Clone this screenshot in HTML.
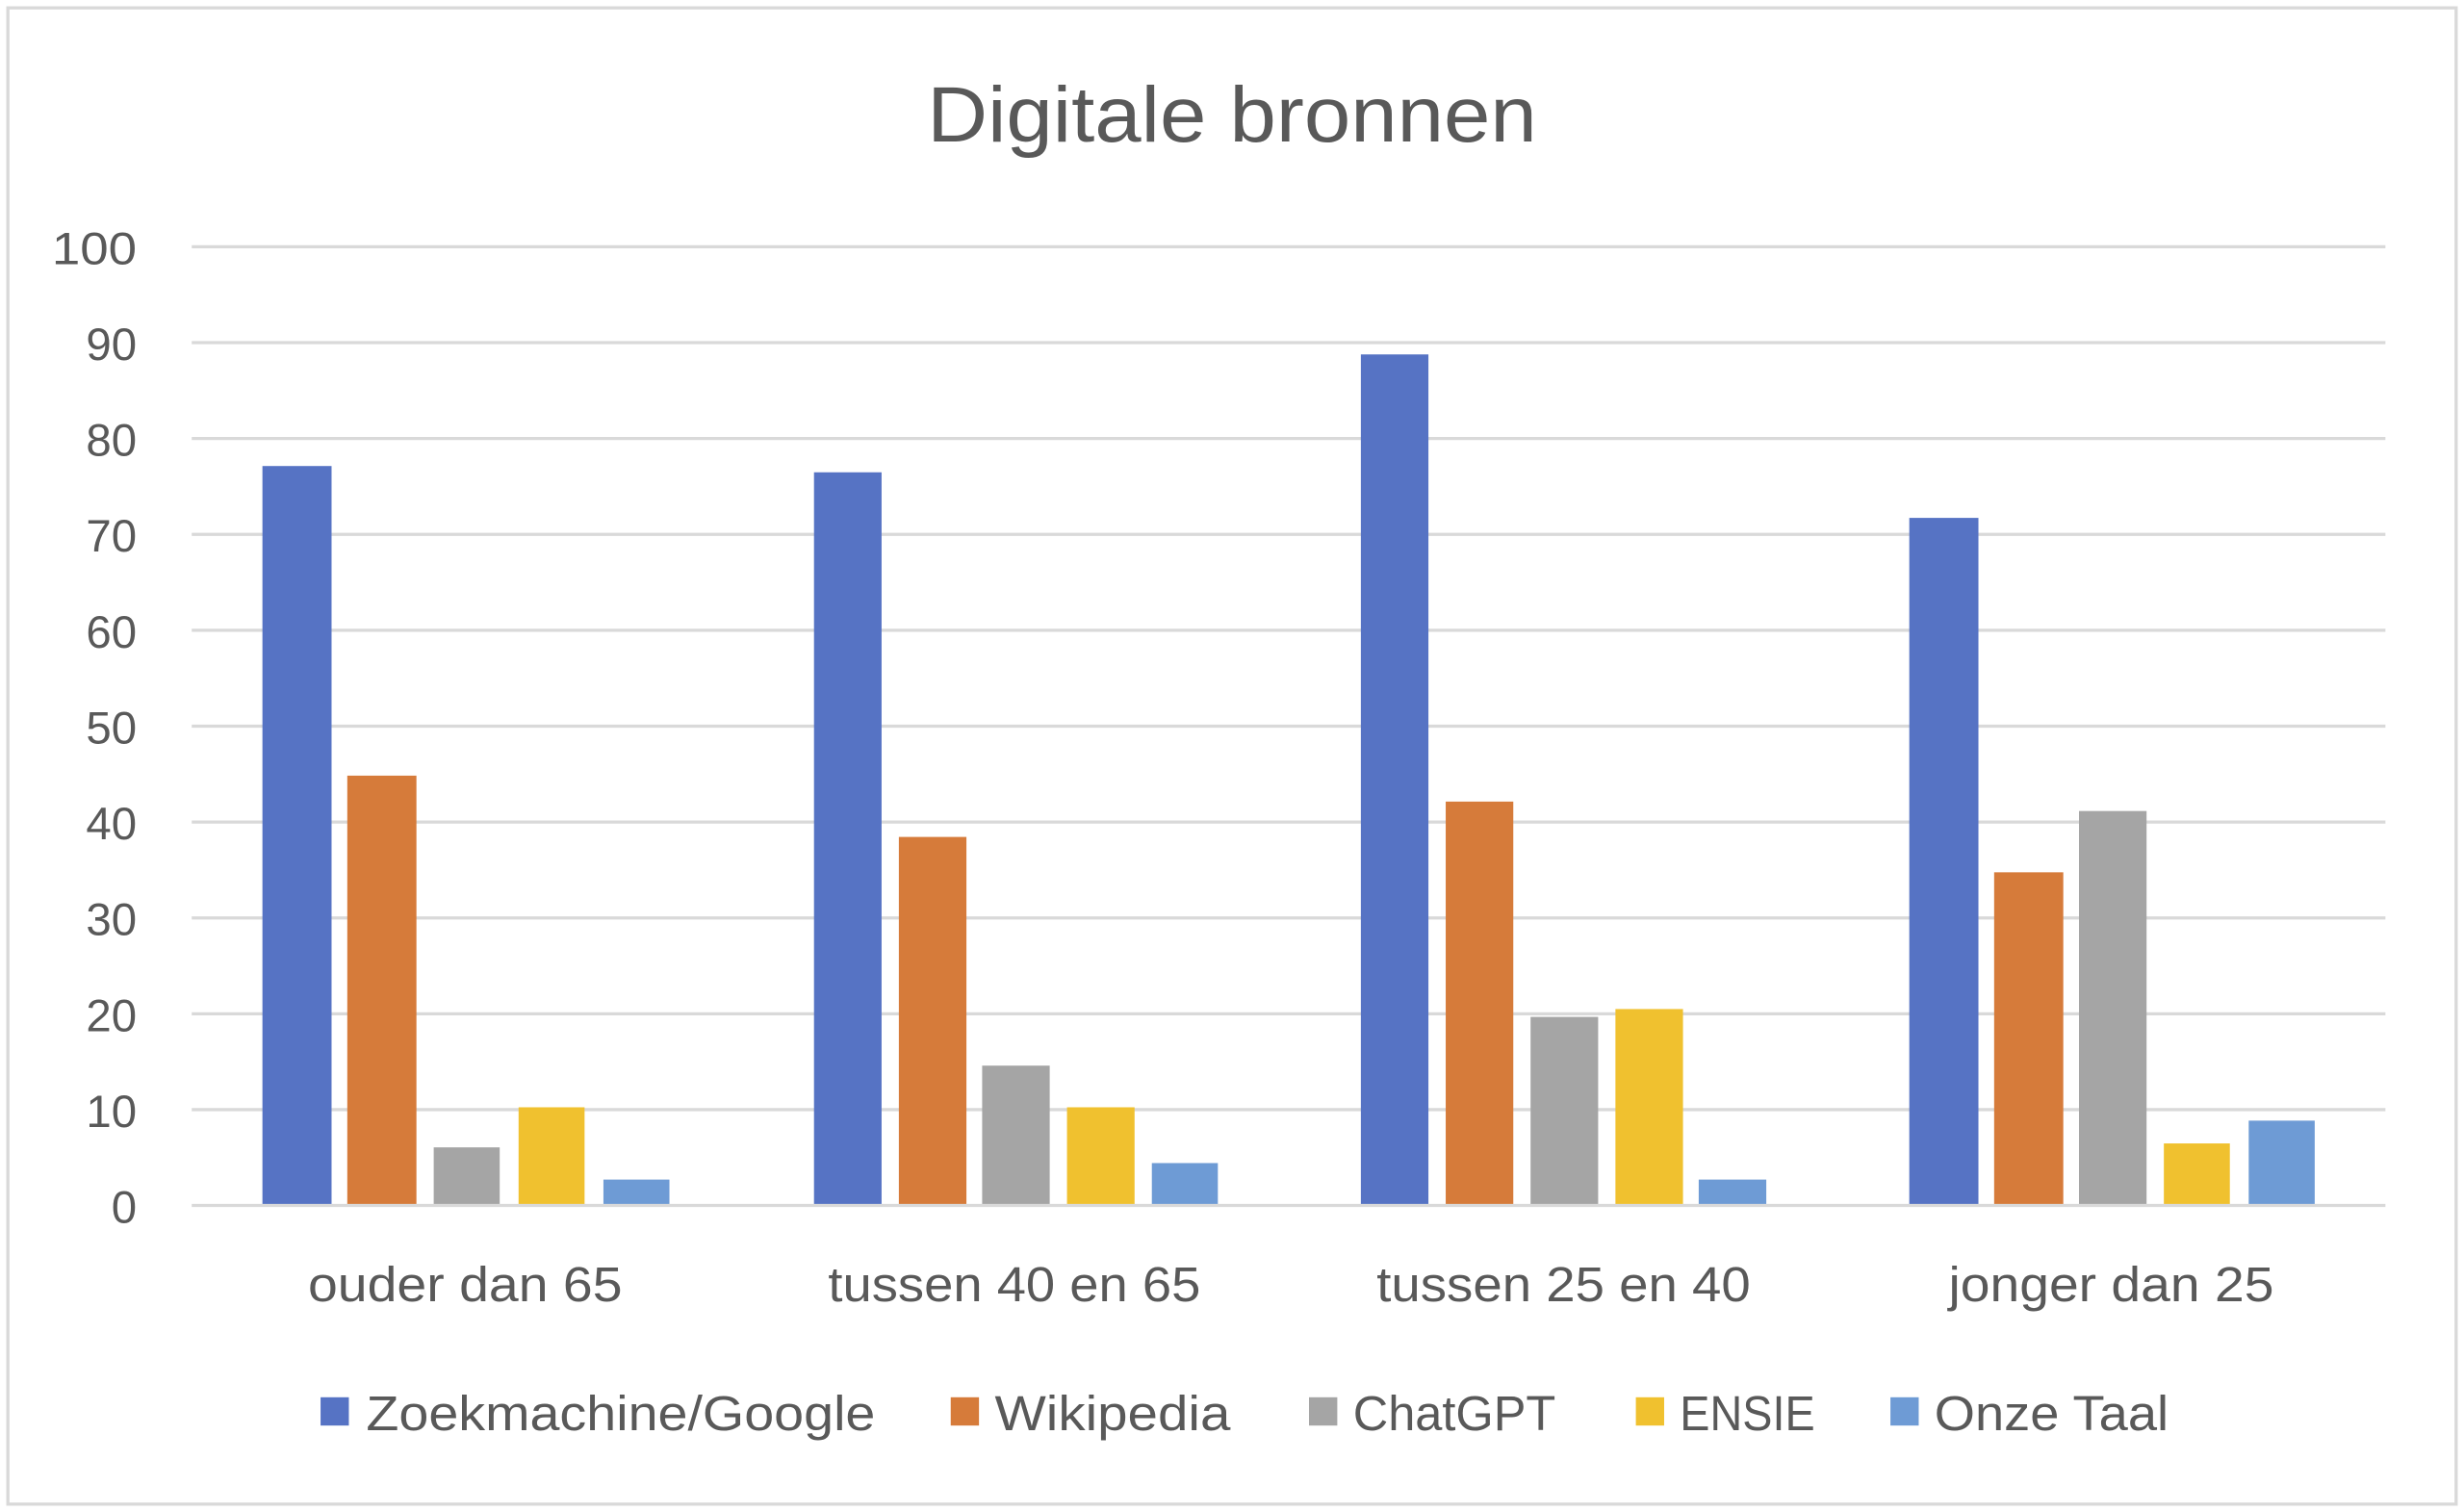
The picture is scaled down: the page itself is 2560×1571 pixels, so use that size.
<!DOCTYPE html>
<html><head><meta charset="utf-8"><style>
html,body{margin:0;padding:0;background:#fff;}
svg{display:block;}
text{font-family:"Liberation Sans",sans-serif;fill:#595959;}
</style></head><body>
<svg width="2560" height="1571" viewBox="0 0 1568 962" preserveAspectRatio="none" xmlns="http://www.w3.org/2000/svg">
<rect x="0" y="0" width="1568" height="962" fill="#fff"/>
<rect x="5" y="5" width="1558" height="952" fill="none" stroke="#d9d9d9" stroke-width="2"/>
<text x="590" y="90" font-size="50" textLength="388" lengthAdjust="spacingAndGlyphs">Digitale bronnen</text>
<g stroke="#d9d9d9" stroke-width="2">
<line x1="122" x2="1518" y1="157" y2="157"/>
<line x1="122" x2="1518" y1="218" y2="218"/>
<line x1="122" x2="1518" y1="279" y2="279"/>
<line x1="122" x2="1518" y1="340" y2="340"/>
<line x1="122" x2="1518" y1="401" y2="401"/>
<line x1="122" x2="1518" y1="462" y2="462"/>
<line x1="122" x2="1518" y1="523" y2="523"/>
<line x1="122" x2="1518" y1="584" y2="584"/>
<line x1="122" x2="1518" y1="645" y2="645"/>
<line x1="122" x2="1518" y1="706" y2="706"/>
</g>
<g font-size="29" text-anchor="end">
<text x="87" y="168" textLength="54" lengthAdjust="spacingAndGlyphs">100</text><text x="87" y="229">90</text><text x="87" y="290">80</text>
<text x="87" y="351">70</text><text x="87" y="412">60</text><text x="87" y="473">50</text>
<text x="87" y="534">40</text><text x="87" y="595">30</text><text x="87" y="656">20</text>
<text x="87" y="717">10</text><text x="87" y="778">0</text>
</g>
<rect x="167" y="296.5" width="44" height="470.5" fill="#5673C4"/>
<rect x="221" y="493.5" width="44" height="273.5" fill="#D67B3A"/>
<rect x="276" y="730" width="42" height="37" fill="#A5A5A5"/>
<rect x="330" y="704.5" width="42" height="62.5" fill="#F0C12F"/>
<rect x="384" y="750.5" width="42" height="16.5" fill="#6E9BD5"/>
<rect x="518" y="300.5" width="43" height="466.5" fill="#5673C4"/>
<rect x="572" y="532.5" width="43" height="234.5" fill="#D67B3A"/>
<rect x="625" y="678" width="43" height="89" fill="#A5A5A5"/>
<rect x="679" y="704.5" width="43" height="62.5" fill="#F0C12F"/>
<rect x="733" y="740" width="42" height="27" fill="#6E9BD5"/>
<rect x="866" y="225.5" width="43" height="541.5" fill="#5673C4"/>
<rect x="920" y="510" width="43" height="257" fill="#D67B3A"/>
<rect x="974" y="647" width="43" height="120" fill="#A5A5A5"/>
<rect x="1028" y="642" width="43" height="125" fill="#F0C12F"/>
<rect x="1081" y="750.5" width="43" height="16.5" fill="#6E9BD5"/>
<rect x="1215" y="329.5" width="44" height="437.5" fill="#5673C4"/>
<rect x="1269" y="555" width="44" height="212" fill="#D67B3A"/>
<rect x="1323" y="516" width="43" height="251" fill="#A5A5A5"/>
<rect x="1377" y="727.5" width="42" height="39.5" fill="#F0C12F"/>
<rect x="1431" y="713" width="42" height="54" fill="#6E9BD5"/>
<line x1="122" x2="1518" y1="767" y2="767" stroke="#d9d9d9" stroke-width="2"/>
<g font-size="31">
<text x="196" y="828" textLength="200" lengthAdjust="spacingAndGlyphs">ouder dan 65</text>
<text x="527" y="828" textLength="237" lengthAdjust="spacingAndGlyphs">tussen 40 en 65</text>
<text x="876" y="828" textLength="238" lengthAdjust="spacingAndGlyphs">tussen 25 en 40</text>
<text x="1240" y="828" textLength="207" lengthAdjust="spacingAndGlyphs">jonger dan 25</text>
</g>
<g font-size="31">
<rect x="204" y="889" width="18" height="18" fill="#5673C4"/><text x="233" y="910" textLength="324" lengthAdjust="spacingAndGlyphs">Zoekmachine/Google</text>
<rect x="605" y="889" width="18" height="18" fill="#D67B3A"/><text x="633" y="910" textLength="150" lengthAdjust="spacingAndGlyphs">Wikipedia</text>
<rect x="833" y="889" width="18" height="18" fill="#A5A5A5"/><text x="861" y="910" textLength="129" lengthAdjust="spacingAndGlyphs">ChatGPT</text>
<rect x="1041" y="889" width="18" height="18" fill="#F0C12F"/><text x="1069" y="910" textLength="86" lengthAdjust="spacingAndGlyphs">ENSIE</text>
<rect x="1203" y="889" width="18" height="18" fill="#6E9BD5"/><text x="1231" y="910" textLength="149" lengthAdjust="spacingAndGlyphs">Onze Taal</text>
</g>
</svg>
</body></html>
